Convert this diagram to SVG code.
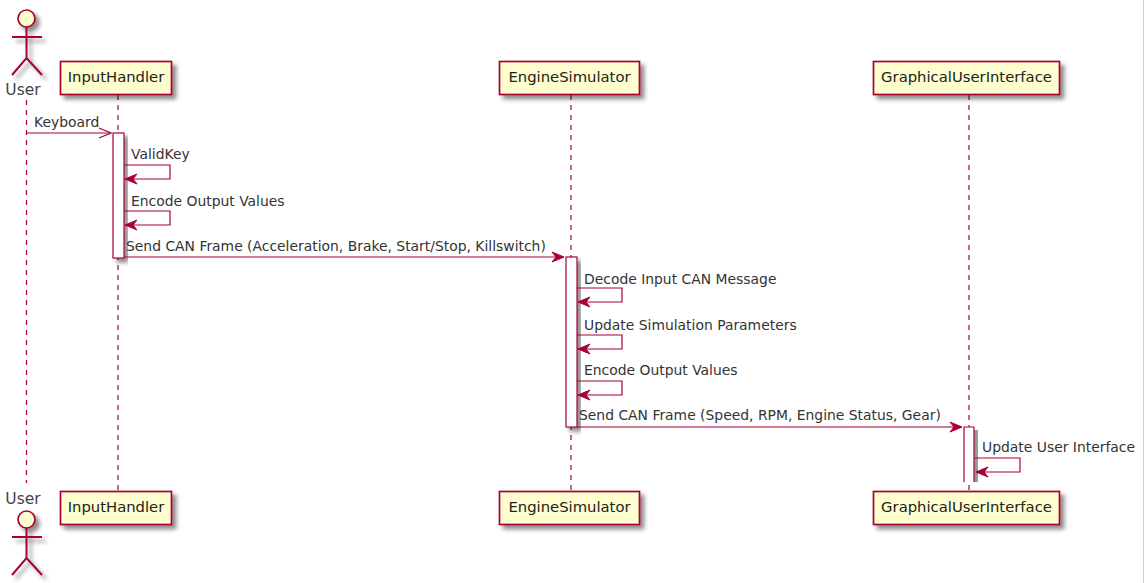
<svg xmlns="http://www.w3.org/2000/svg" width="1144" height="583" viewBox="0 0 1144 583">
<style>
text{font-family:"DejaVu Sans",sans-serif;font-size:13.9px;fill:#333}
.t{font-size:14.8px;fill:#222}
.a{font-size:15.5px;fill:#444}
.b{fill:#FEFECE;stroke:#A80036;stroke-width:1.7}
.l{stroke:#A80036;stroke-width:1.2;stroke-dasharray:5 5;fill:none}
.act{fill:#fff;stroke:#A80036;stroke-width:1.2}
.m{stroke:#A80036;stroke-width:1.2;fill:none}
.h{fill:#A80036;stroke:#A80036;stroke-width:1}
.ac{fill:none;stroke:#A80036;stroke-width:2}
</style>
<defs>
<filter id="s" x="-20%" y="-20%" width="150%" height="150%"><feDropShadow dx="4" dy="4" stdDeviation="2" flood-color="#000" flood-opacity="0.45"/></filter>
<marker id="ah" markerWidth="14" markerHeight="12" refX="13" refY="6" orient="auto" markerUnits="userSpaceOnUse"><path class="h" d="M1 1L13 6L1 11L5 6Z"/></marker>
<marker id="ao" markerWidth="14" markerHeight="12" refX="13" refY="6" orient="auto" markerUnits="userSpaceOnUse"><path class="m" d="M1 1L13 6L1 11"/></marker>
</defs>
<rect width="1144" height="583" fill="#fff"/>
<rect x="1143" y="0" width="1" height="583" fill="#d0d0d0"/>
<g id="lifelines">
<path class="l" d="M26.500 100V483"/>
<path class="l" d="M118 95V490"/>
<path class="l" d="M571 95V490"/>
<path class="l" d="M969 95V490"/>
</g>
<g id="user-top">
<g filter="url(#s)"><circle class="b" cx="26.500" cy="18.500" r="8.500"/><path class="ac" d="M26.500 27V58M12 37H42M12 75L26.500 58L42 75"/></g>
<text class="a" x="23" y="95" text-anchor="middle">User</text>
</g>
<g id="inputhandler-top"><rect class="b" x="60.500" y="61.500" width="111" height="33" filter="url(#s)"/><text class="t" x="116" y="82" text-anchor="middle">InputHandler</text></g>
<g id="enginesimulator-top"><rect class="b" x="499.500" y="61.500" width="140" height="33" filter="url(#s)"/><text class="t" x="569.500" y="82" text-anchor="middle">EngineSimulator</text></g>
<g id="gui-top"><rect class="b" x="873.500" y="61.500" width="186" height="33" filter="url(#s)"/><text class="t" x="966.500" y="82" text-anchor="middle">GraphicalUserInterface</text></g>
<g id="activations">
<rect class="act" x="113" y="133" width="11" height="125" filter="url(#s)"/>
<rect class="act" x="566" y="257" width="11" height="170" filter="url(#s)"/>
<rect x="974" y="430" width="4" height="52" fill="#999"/>
<path d="M964 482V427H974V482Z" fill="#fff"/>
<path class="m" d="M964 482V427H974V482"/>
</g>
<g id="connectors">
<path class="m" d="M27 133H111" marker-end="url(#ao)"/>
<path class="m" d="M124 165H170V179H125" marker-end="url(#ah)"/>
<path class="m" d="M124 211H170V225H125" marker-end="url(#ah)"/>
<path class="m" d="M124 257H564" marker-end="url(#ah)"/>
<path class="m" d="M577 288H622V302H578" marker-end="url(#ah)"/>
<path class="m" d="M577 335H622V349H578" marker-end="url(#ah)"/>
<path class="m" d="M577 381H622V395H578" marker-end="url(#ah)"/>
<path class="m" d="M577 427H962" marker-end="url(#ah)"/>
<path class="m" d="M975 458H1020V472H976" marker-end="url(#ah)"/>
</g>
<g id="labels">
<text x="34" y="127">Keyboard</text>
<text x="131" y="159">ValidKey</text>
<text x="131" y="206">Encode Output Values</text>
<text x="126" y="251">Send CAN Frame (Acceleration, Brake, Start/Stop, Killswitch)</text>
<text x="584" y="284">Decode Input CAN Message</text>
<text x="584" y="330">Update Simulation Parameters</text>
<text x="584" y="375">Encode Output Values</text>
<text x="579" y="420">Send CAN Frame (Speed, RPM, Engine Status, Gear)</text>
<text x="982" y="452">Update User Interface</text>
</g>
<g id="user-bottom">
<text class="a" x="23" y="504" text-anchor="middle">User</text>
<g filter="url(#s)"><circle class="b" cx="26.500" cy="519.500" r="8.500"/><path class="ac" d="M26.500 528V558M12 537H42M12 575L26.500 558L42 575"/></g>
</g>
<g id="inputhandler-bottom"><rect class="b" x="60.500" y="491.500" width="111" height="33" filter="url(#s)"/><text class="t" x="116" y="512" text-anchor="middle">InputHandler</text></g>
<g id="enginesimulator-bottom"><rect class="b" x="499.500" y="491.500" width="140" height="33" filter="url(#s)"/><text class="t" x="569.500" y="512" text-anchor="middle">EngineSimulator</text></g>
<g id="gui-bottom"><rect class="b" x="873.500" y="491.500" width="186" height="33" filter="url(#s)"/><text class="t" x="966.500" y="512" text-anchor="middle">GraphicalUserInterface</text></g>
</svg>
